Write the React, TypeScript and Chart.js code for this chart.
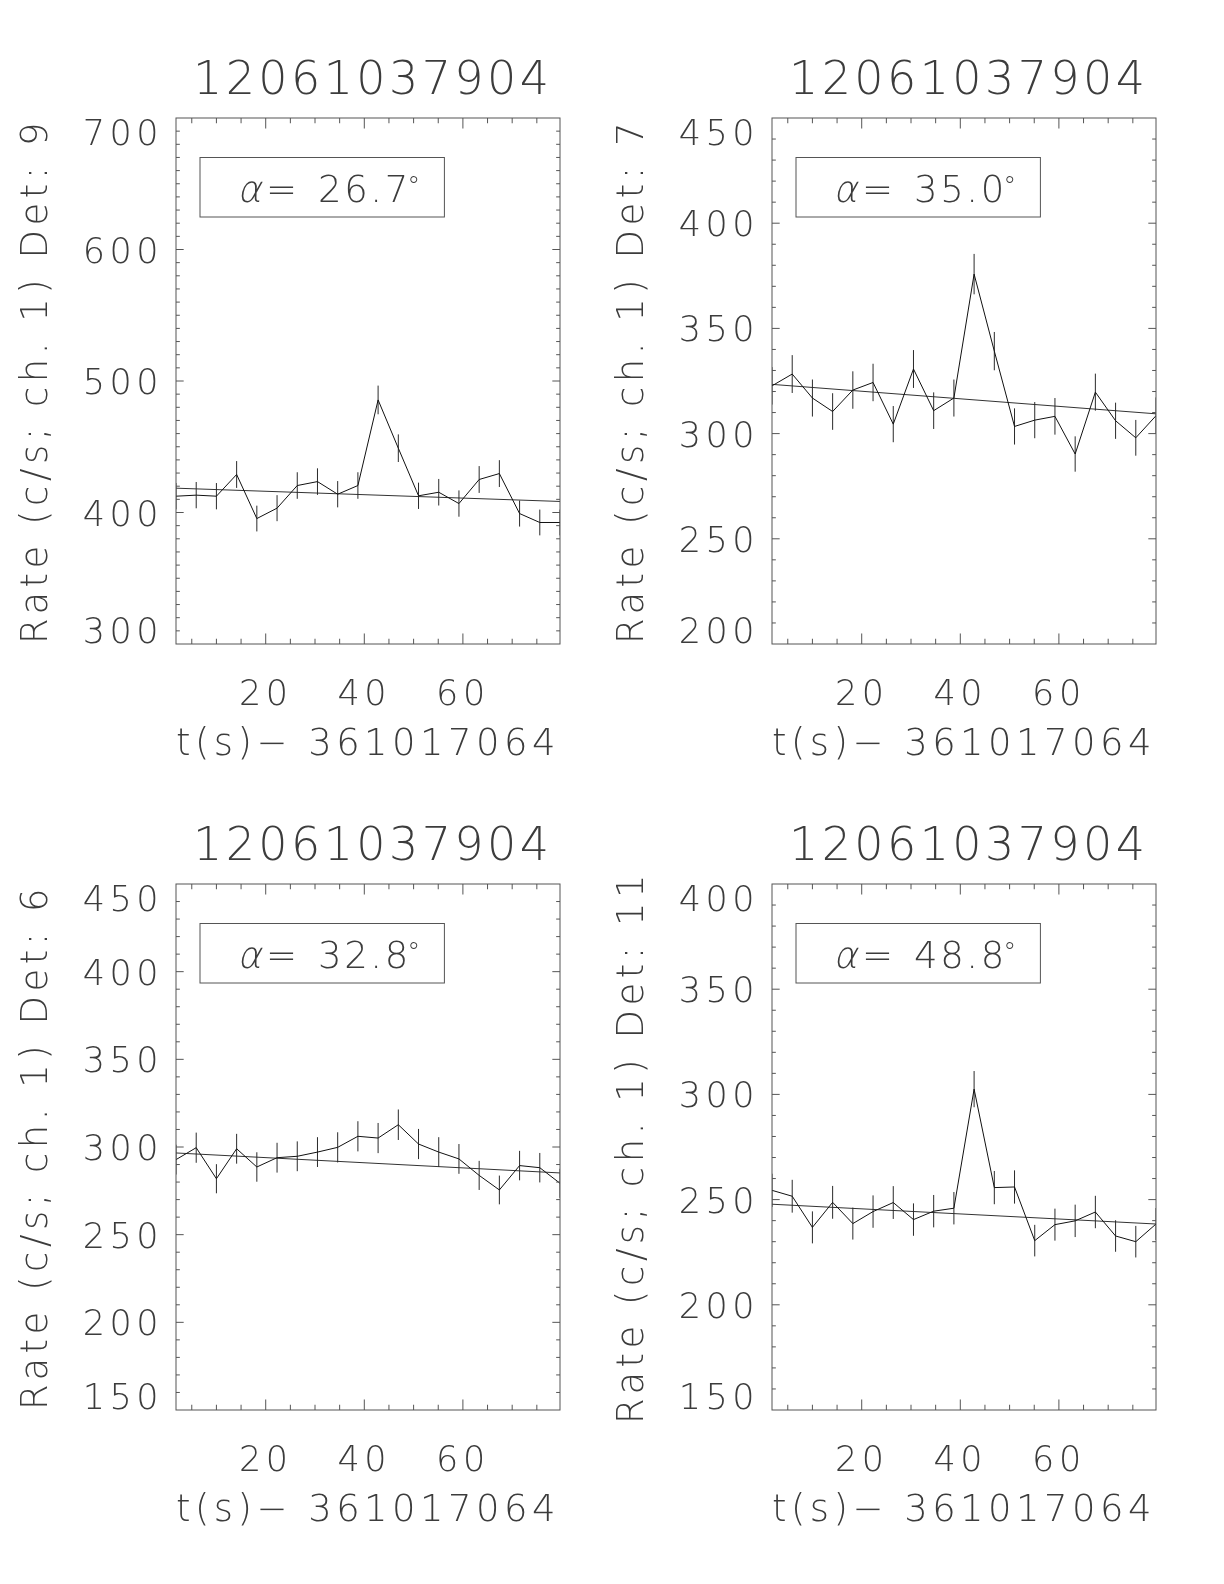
import React, { useEffect, useRef } from 'react';
import { Chart, registerables } from 'chart.js';

Chart.register(...registerables);

// ---------------- data ----------------
const OBS_ID = '12061037904';
const X_TITLE = 't(s)\u2212 361017064';
const TIMES = [1.8, 5.9, 10.0, 14.1, 18.2, 22.3, 26.4, 30.5, 34.6, 38.7, 42.8, 46.9, 51.0, 55.1, 59.2, 63.3, 67.4, 71.5, 75.6, 79.7];
const X_MIN = 1.8;
const X_MAX = 79.7;
const X_TICKS = [20, 40, 60];
const X_MINOR_STEP = 5;

const DETECTORS = ['9', '7', '6', '11'];
const ANGLES = ['26.7', '35.0', '32.8', '48.8'];

const RATE_DET9 = [412.4, 413.2, 412.4, 428.9, 395.4, 403.3, 420.5, 423.5, 413.9, 420.5, 485.6, 448.9, 412.7, 415.4, 406.8, 425.1, 429.6, 399.2, 392.4, 392.4];
const ERR_DET9 = [10.0, 10.0, 10.0, 10.2, 9.8, 9.9, 10.1, 10.1, 10.0, 10.1, 10.9, 10.5, 10.0, 10.1, 10.0, 10.2, 10.2, 9.9, 9.8, 9.8];

const RATE_DET7 = [322.7, 328.3, 316.9, 310.5, 320.7, 324.3, 304.5, 330.7, 310.9, 316.9, 375.8, 339.2, 303.4, 306.4, 308.2, 290.3, 319.7, 306.1, 298.0, 308.5];
const ERR_DET7 = [8.9, 9.0, 8.8, 8.7, 8.9, 8.9, 8.6, 9.0, 8.7, 8.8, 9.6, 9.1, 8.6, 8.6, 8.7, 8.4, 8.8, 8.6, 8.5, 8.7];

const RATE_DET6 = [292.8, 299.6, 281.9, 299.0, 288.6, 293.9, 294.7, 297.1, 299.8, 306.1, 305.1, 312.7, 301.7, 297.1, 293.2, 283.8, 275.5, 289.4, 288.2, 279.3];
const ERR_DET6 = [8.5, 8.6, 8.3, 8.5, 8.4, 8.5, 8.5, 8.5, 8.6, 8.6, 8.6, 8.7, 8.6, 8.5, 8.5, 8.3, 8.2, 8.4, 8.4, 8.3];

const RATE_DET11 = [254.4, 251.6, 236.8, 248.7, 238.6, 244.3, 248.6, 240.5, 244.5, 245.9, 302.5, 255.7, 256.0, 230.5, 238.1, 239.9, 244.1, 232.7, 230.0, 238.4];
const ERR_DET11 = [7.9, 7.8, 7.6, 7.8, 7.6, 7.7, 7.8, 7.7, 7.7, 7.7, 8.6, 7.9, 7.9, 7.5, 7.6, 7.7, 7.7, 7.5, 7.5, 7.6];

// linear background fit: value at X_MIN and at X_MAX
const FIT_START = [418.5, 323.4, 296.6, 247.8];
const FIT_END = [408.4, 309.4, 285.2, 238.4];

const Y_MIN = [300, 200, 150, 150];
const Y_MAX = [700, 450, 450, 400];
const Y_TICKS_DET9 = [300, 400, 500, 600, 700];
const Y_TICKS_DET7 = [200, 250, 300, 350, 400, 450];
const Y_TICKS_DET6 = [150, 200, 250, 300, 350, 400, 450];
const Y_TICKS_DET11 = [150, 200, 250, 300, 350, 400];
const Y_MINOR_STEP = [10, 10, 10, 10];

const RATES = [RATE_DET9, RATE_DET7, RATE_DET6, RATE_DET11];
const ERRS = [ERR_DET9, ERR_DET7, ERR_DET6, ERR_DET11];
const Y_TICKS = [Y_TICKS_DET9, Y_TICKS_DET7, Y_TICKS_DET6, Y_TICKS_DET11];

// ---------------- layout / style ----------------
const PANEL_LEFT = [0, 596, 0, 596];
const PANEL_TOP = [0, 0, 766, 766];
const CANVAS_W = 596;
const CANVAS_H = 766;

const FAMILY = '"DejaVu Sans", "Liberation Sans", sans-serif';
const WEIGHT = 200;
const TEXT_COLOR = '#3c3c3c';
const AXIS_COLOR = '#555555';
const LINE_COLOR = '#111111';
const TICK_SIZE = 35;
const AXIS_TITLE_SIZE = 37;
const LABEL_SPACING = 4.5;
const TITLE_SIZE = 46;
const TITLE_SPACING = 3.4;
const LEGEND_SIZE = 37;
const LEGEND_SPACING = 2.6;

const idlPlugin = {
  id: 'idlFrame',
  beforeDraw(chart: any) {
    (chart.ctx as any).letterSpacing = LABEL_SPACING + 'px';
  },
  afterDraw(chart: any, _args: any, opts: any) {
    const { ctx, chartArea: a, scales } = chart;
    const x = scales.x;
    const y = scales.y;
    const idx = opts.idx as number;
    ctx.save();
    ctx.strokeStyle = AXIS_COLOR;
    ctx.lineWidth = 1;
    ctx.strokeRect(a.left, a.top, a.right - a.left, a.bottom - a.top);

    const seg = (x1: number, y1: number, x2: number, y2: number) => {
      ctx.beginPath();
      ctx.moveTo(x1, y1);
      ctx.lineTo(x2, y2);
      ctx.stroke();
    };
    const h = a.bottom - a.top;
    const w = a.right - a.left;
    // x ticks (inside, bottom and top)
    for (let v = X_MINOR_STEP; v < X_MAX; v += X_MINOR_STEP) {
      if (v <= X_MIN) continue;
      const px = x.getPixelForValue(v);
      const len = X_TICKS.includes(v) ? 0.02 * h : 0.01 * h;
      seg(px, a.bottom, px, a.bottom - len);
      seg(px, a.top, px, a.top + len);
    }
    // y ticks (inside, left and right)
    const yt = Y_TICKS[idx];
    for (let v = Y_MIN[idx] + Y_MINOR_STEP[idx]; v < Y_MAX[idx]; v += Y_MINOR_STEP[idx]) {
      const py = y.getPixelForValue(v);
      const len = yt.includes(v) ? 0.02 * w : 0.01 * w;
      seg(a.left, py, a.left + len, py);
      seg(a.right, py, a.right - len, py);
    }

    // title
    ctx.fillStyle = TEXT_COLOR;
    (ctx as any).letterSpacing = TITLE_SPACING + 'px';
    ctx.font = `${WEIGHT} ${TITLE_SIZE}px ${FAMILY}`;
    ctx.textAlign = 'center';
    ctx.textBaseline = 'alphabetic';
    ctx.fillText(OBS_ID, (a.left + a.right) / 2 + 3 + TITLE_SPACING / 2, a.top - 24);

    // alpha legend box
    ctx.strokeStyle = AXIS_COLOR;
    ctx.strokeRect(a.left + 24, a.top + 39.5, 244.4, 59.5);
    ctx.textAlign = 'left';
    const by = a.top + 84;
    ctx.font = `${WEIGHT} ${LEGEND_SIZE}px ${FAMILY}`;
    // slanted alpha
    (ctx as any).letterSpacing = '0px';
    ctx.save();
    ctx.translate(a.left + 61, by);
    ctx.transform(1, 0, -0.22, 1, 0, 0);
    ctx.fillText('\u03b1', 0, 0);
    ctx.restore();
    // "=" and the value
    ctx.fillText('=', a.left + 90, by);
    const num = ANGLES[idx];
    const nx = a.left + 142;
    const w0 = ctx.measureText(num).width + LEGEND_SPACING * (num.length - 1);
    (ctx as any).letterSpacing = LEGEND_SPACING + 'px';
    ctx.fillText(num, nx, by);
    // degree sign, small and raised
    (ctx as any).letterSpacing = '0px';
    ctx.font = `${WEIGHT} 26px ${FAMILY}`;
    ctx.fillText('\u00b0', nx + w0 - 1, by - 7);
    ctx.restore();
  },
};

function buildConfig(idx: number): any {
  const rate = RATES[idx];
  const err = ERRS[idx];
  const errData: any[] = [];
  TIMES.forEach((t, i) => {
    errData.push({ x: t, y: rate[i] - err[i] });
    errData.push({ x: t, y: rate[i] + err[i] });
    errData.push({ x: t, y: null });
  });
  const tickFont = { family: FAMILY, size: TICK_SIZE, weight: WEIGHT, lineHeight: 1 };
  const titleFont = { family: FAMILY, size: AXIS_TITLE_SIZE, weight: WEIGHT, lineHeight: 1 };
  return {
    type: 'line',
    data: {
      datasets: [
        {
          label: 'Rate',
          data: TIMES.map((t, i) => ({ x: t, y: rate[i] })),
          borderColor: LINE_COLOR,
          borderWidth: 1,
          pointRadius: 0,
          tension: 0,
          fill: false,
        },
        {
          label: 'Error',
          data: errData,
          borderColor: '#2a2a2a',
          borderWidth: 1,
          pointRadius: 0,
          spanGaps: false,
          fill: false,
        },
        {
          label: 'Fit',
          data: [
            { x: X_MIN, y: FIT_START[idx] },
            { x: X_MAX, y: FIT_END[idx] },
          ],
          borderColor: '#333333',
          borderWidth: 1,
          pointRadius: 0,
          fill: false,
        },
      ],
    },
    options: {
      animation: false,
      responsive: false,
      devicePixelRatio: 1,
      events: [],
      layout: { padding: { left: 0, top: 118, right: 36, bottom: 0 } },
      plugins: {
        legend: { display: false },
        tooltip: { enabled: false },
        title: { display: false },
        idlFrame: { idx },
      },
      scales: {
        x: {
          type: 'linear',
          position: 'bottom',
          min: X_MIN,
          max: X_MAX,
          grid: { display: false, drawTicks: false },
          border: { display: false },
          afterBuildTicks: (s: any) => {
            s.ticks = X_TICKS.map((v) => ({ value: v }));
          },
          afterFit: (s: any) => {
            s.height = 122;
          },
          ticks: {
            font: tickFont,
            color: TEXT_COLOR,
            padding: 34,
            maxRotation: 0,
            autoSkip: false,
            callback: (v: any) => String(v),
          },
          title: {
            display: true,
            text: X_TITLE,
            font: titleFont,
            color: TEXT_COLOR,
            padding: { top: 0, bottom: 2.5 },
          },
        },
        y: {
          type: 'linear',
          position: 'left',
          min: Y_MIN[idx],
          max: Y_MAX[idx],
          grid: { display: false, drawTicks: false },
          border: { display: false },
          afterBuildTicks: (s: any) => {
            s.ticks = Y_TICKS[idx].map((v) => ({ value: v }));
          },
          afterFit: (s: any) => {
            s.width = 176;
          },
          ticks: {
            font: { family: FAMILY, size: TICK_SIZE, weight: WEIGHT, lineHeight: 0.8 },
            color: TEXT_COLOR,
            padding: 13,
            labelOffset: 4,
            autoSkip: false,
            callback: (v: any, i: number, ticks: any[]) => {
              if (i === 0) return [String(v), ''];
              if (i === ticks.length - 1) return ['', String(v)];
              return String(v);
            },
          },
          title: {
            display: true,
            text: 'Rate (c/s; ch. 1) Det: ' + DETECTORS[idx],
            font: titleFont,
            color: TEXT_COLOR,
            padding: { top: 18.5, bottom: 0 },
          },
        },
      },
    },
    plugins: [idlPlugin],
  };
}

function Panel({ idx }: { idx: number }) {
  const ref = useRef<HTMLCanvasElement>(null);
  useEffect(() => {
    const chart = new Chart(ref.current as HTMLCanvasElement, buildConfig(idx));
    return () => chart.destroy();
  }, [idx]);
  return (
    <canvas
      ref={ref}
      width={CANVAS_W}
      height={CANVAS_H}
      style={{
        position: 'absolute',
        left: PANEL_LEFT[idx],
        top: PANEL_TOP[idx],
        width: CANVAS_W,
        height: CANVAS_H,
      }}
    />
  );
}

export default function App() {
  return (
    <div
      style={{
        position: 'absolute',
        left: 0,
        top: 0,
        width: 1224,
        height: 1584,
        background: '#ffffff',
        overflow: 'hidden',
      }}
    >
      {[0, 1, 2, 3].map((i) => (
        <Panel key={i} idx={i} />
      ))}
    </div>
  );
}
